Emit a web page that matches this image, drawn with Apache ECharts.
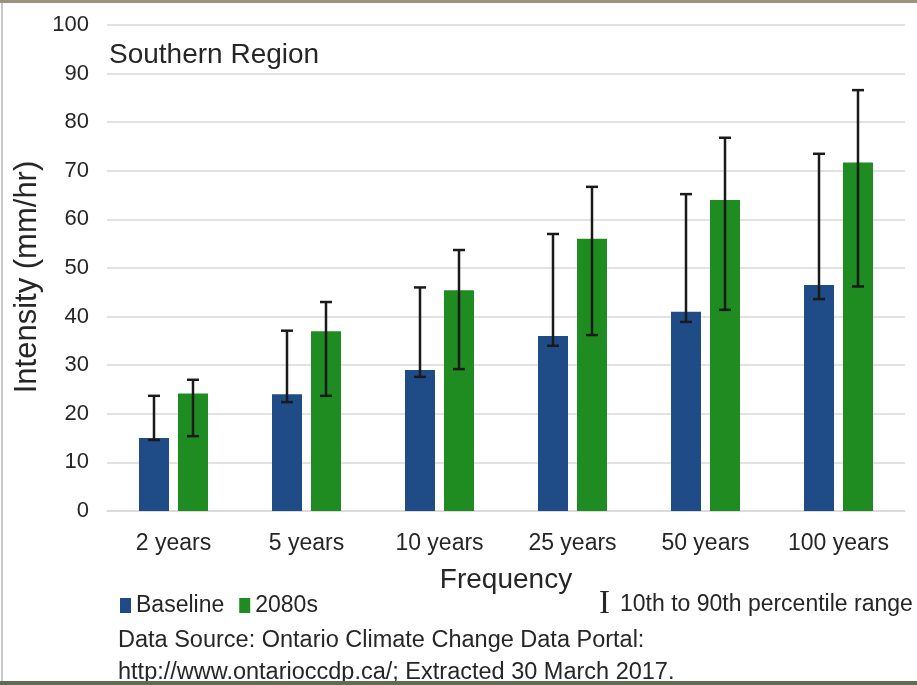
<!DOCTYPE html>
<html>
<head>
<meta charset="utf-8">
<title>Southern Region</title>
<script src="https://cdn.jsdelivr.net/npm/echarts@6/dist/echarts.min.js"></script>
<style>
  html, body { margin: 0; padding: 0; background: #fff; }
  #main { width: 917px; height: 685px; }
</style>
</head>
<body>
<div id="main"></div>
<script>
// data
var categories = ['2 years', '5 years', '10 years', '25 years', '50 years', '100 years'];
var baseline = [15, 24, 29, 36, 41, 46.5];
var future = [24.2, 37, 45.4, 56, 64, 71.7];
var baselineLow = [14.6, 22.4, 27.6, 34, 38.9, 43.6];
var baselineHigh = [23.7, 37.1, 46, 57, 65.2, 73.5];
var futureLow = [15.4, 23.7, 29.2, 36.2, 41.4, 46.2];
var futureHigh = [27, 43, 53.7, 66.7, 76.8, 86.6];
var yTicks = [0, 10, 20, 30, 40, 50, 60, 70, 80, 90, 100];

var sans = "'Liberation Sans', Arial, sans-serif";
var textColor = '#262626';

var myChart = echarts.init(document.getElementById('main'));

// vertical whisker with caps, drawn next to each bar
function errorBar(offset) {
    return function (params, api) {
        var x = api.coord([api.value(0), 0])[0] + offset;
        var lo = api.coord([api.value(0), api.value(1)])[1];
        var hi = api.coord([api.value(0), api.value(2)])[1];
        var st = { stroke: '#1a1a1a', lineWidth: 2.5 };
        return {
            type: 'group',
            children: [
                { type: 'line', shape: { x1: x, y1: lo, x2: x, y2: hi }, style: st },
                { type: 'line', shape: { x1: x - 6, y1: hi, x2: x + 6, y2: hi }, style: st },
                { type: 'line', shape: { x1: x - 6, y1: lo, x2: x + 6, y2: lo }, style: st }
            ]
        };
    };
}

var option = {
    backgroundColor: '#fff',
    animation: false,
    title: {
        text: 'Southern Region',
        left: 104,
        top: 36,
        textStyle: { fontFamily: sans, fontSize: 28, fontWeight: 'normal', color: textColor }
    },
    legend: {
        left: 115,
        top: 589,
        itemWidth: 11,
        itemHeight: 15,
        itemGap: 15,
        icon: 'rect',
        textStyle: { fontFamily: sans, fontSize: 23, color: textColor },
        data: ['Baseline', '2080s']
    },
    grid: { left: 107, right: 12, top: 25, bottom: 174 },
    xAxis: {
        type: 'category',
        data: categories,
        name: 'Frequency',
        nameLocation: 'middle',
        nameGap: 55,
        nameTextStyle: { fontFamily: sans, fontSize: 28, color: textColor },
        axisLine: { lineStyle: { color: '#d9d9d9', width: 1.5 } },
        axisTick: { show: false },
        axisLabel: { fontFamily: sans, fontSize: 23, color: textColor, margin: 21, interval: 0 }
    },
    yAxis: {
        type: 'value',
        min: yTicks[0],
        max: yTicks[yTicks.length - 1],
        interval: 10,
        axisLine: { show: false },
        axisTick: { show: false },
        splitLine: { lineStyle: { color: '#d9d9d9', width: 1.5 } },
        axisLabel: { fontFamily: sans, fontSize: 22, color: textColor, margin: 18 }
    },
    series: [
        {
            name: 'Baseline',
            type: 'bar',
            data: baseline,
            barWidth: 30,
            barGap: '30%',
            itemStyle: { color: '#1f4b87' }
        },
        {
            name: '2080s',
            type: 'bar',
            data: future,
            barWidth: 30,
            itemStyle: { color: '#1f8c22' }
        },
        {
            type: 'custom',
            name: 'Baseline range',
            z: 5,
            renderItem: errorBar(-19.5),
            encode: { x: 0, y: [1, 2] },
            data: categories.map(function (c, i) { return [i, baselineLow[i], baselineHigh[i]]; })
        },
        {
            type: 'custom',
            name: '2080s range',
            z: 5,
            renderItem: errorBar(19.5),
            encode: { x: 0, y: [1, 2] },
            data: categories.map(function (c, i) { return [i, futureLow[i], futureHigh[i]]; })
        }
    ],
    graphic: [
        {
            type: 'text',
            x: 27, y: 277,
            rotation: Math.PI / 2,
            style: {
                text: 'Intensity (mm/hr)',
                font: '31px ' + sans,
                fill: textColor,
                textAlign: 'center',
                textVerticalAlign: 'middle'
            }
        },
        {
            type: 'text',
            x: 599, y: 604,
            style: {
                text: 'I',
                font: "33px 'Liberation Serif', serif",
                fill: textColor,
                textVerticalAlign: 'middle'
            }
        },
        {
            type: 'text',
            x: 620, y: 605,
            style: {
                text: '10th to 90th percentile range',
                font: '23px ' + sans,
                fill: textColor,
                textVerticalAlign: 'middle'
            }
        },
        {
            type: 'text',
            x: 118, y: 641,
            style: {
                text: 'Data Source: Ontario Climate Change Data Portal:',
                font: '23.5px ' + sans,
                fill: textColor,
                textVerticalAlign: 'middle'
            }
        },
        {
            type: 'text',
            x: 118, y: 673,
            style: {
                text: 'http://www.ontarioccdp.ca/; Extracted 30 March 2017.',
                font: '23.5px ' + sans,
                fill: textColor,
                textVerticalAlign: 'middle'
            }
        },
        // photo edges at top and bottom of the original
        { type: 'rect', shape: { x: 0, y: 0, width: 917, height: 3 }, style: { fill: '#9a927e' }, z: 10 },
        { type: 'rect', shape: { x: 0, y: 681, width: 917, height: 4 }, style: { fill: '#5f6b52' }, z: 10 },
        { type: 'rect', shape: { x: 1, y: 3, width: 2, height: 678 }, style: { fill: '#c8c8c8' } }
    ]
};

myChart.setOption(option);
</script>
</body>
</html>
